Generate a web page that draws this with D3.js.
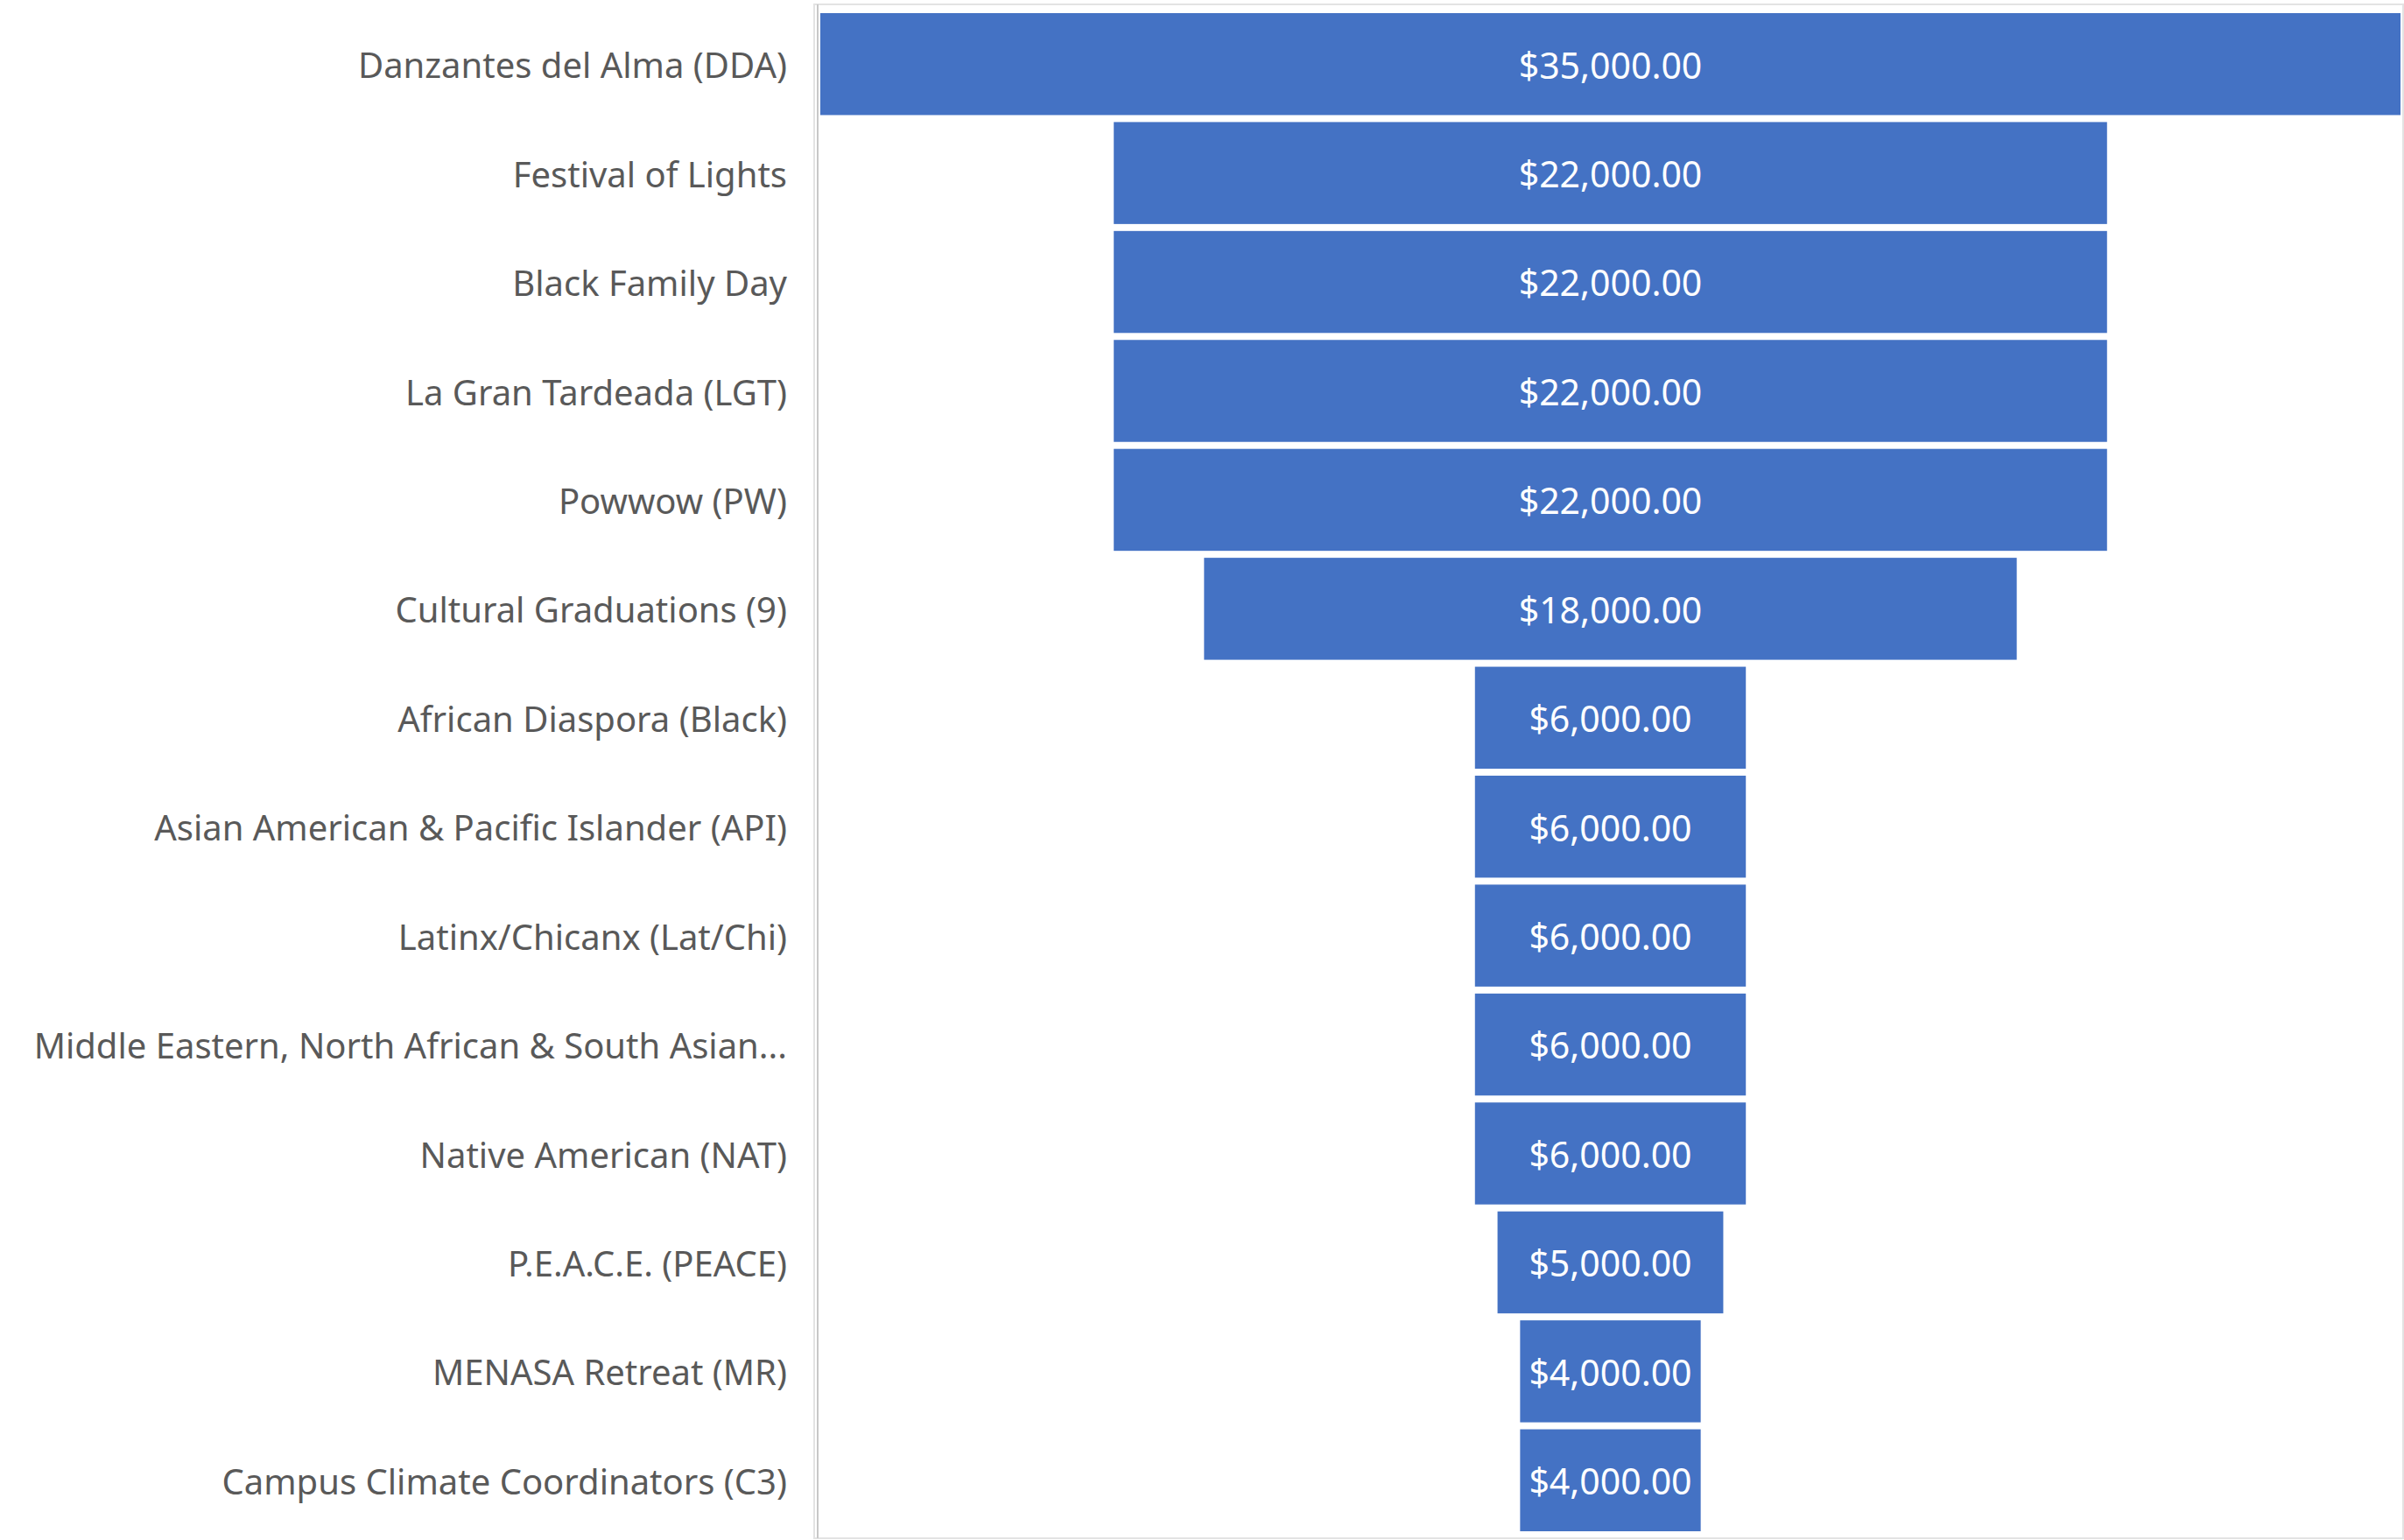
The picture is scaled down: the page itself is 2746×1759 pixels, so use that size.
<!DOCTYPE html>
<html>
<head>
<meta charset="utf-8">
<script src="https://cdn.jsdelivr.net/npm/d3@7"></script>
<style>
    body { margin: 0; background: #fff; }
    svg { display: block; }
</style>
</head>
<body>
<div id="chart"></div>
<script>
// funnel data, top to bottom
const categories = [
    'Danzantes del Alma (DDA)',
    'Festival of Lights',
    'Black Family Day',
    'La Gran Tardeada (LGT)',
    'Powwow (PW)',
    'Cultural Graduations (9)',
    'African Diaspora (Black)',
    'Asian American & Pacific Islander (API)',
    'Latinx/Chicanx (Lat/Chi)',
    'Middle Eastern, North African & South Asian...',
    'Native American (NAT)',
    'P.E.A.C.E. (PEACE)',
    'MENASA Retreat (MR)',
    'Campus Climate Coordinators (C3)'
];
const amounts = [35000, 22000, 22000, 22000, 22000, 18000, 6000, 6000, 6000, 6000, 6000, 5000, 4000, 4000];

const W = 2746, H = 1759;
const plot = { left: 930, top: 5, right: 2745, bottom: 1757 };
const barLeft = 937, barRight = 2742;
const center = (barLeft + barRight) / 2;

const svg = d3.select('#chart').append('svg')
    .attr('width', W)
    .attr('height', H);

const y = d3.scaleBand()
    .domain(categories)
    .range([11, 1753])
    .paddingInner(0.064)
    .paddingOuter(0.032);

const w = d3.scaleLinear()
    .domain([0, d3.max(amounts)])
    .range([0, barRight - barLeft]);

const fmt = d3.format('$,.2f');
const rows = categories.map((c, i) => ({ name: c, value: amounts[i] }));

// plot area border
svg.append('rect')
    .attr('x', plot.left)
    .attr('y', plot.top)
    .attr('width', plot.right - plot.left)
    .attr('height', plot.bottom - plot.top)
    .attr('fill', 'none')
    .attr('stroke', '#e3e3e3')
    .attr('stroke-width', 2);

// category axis line
svg.append('line')
    .attr('x1', plot.left + 4).attr('x2', plot.left + 4)
    .attr('y1', plot.top).attr('y2', plot.bottom)
    .attr('stroke', '#c8c8c8')
    .attr('stroke-width', 2);

svg.selectAll('.bar')
    .data(rows)
    .enter().append('rect')
    .attr('class', 'bar')
    .attr('x', d => center - w(d.value) / 2)
    .attr('y', d => y(d.name))
    .attr('width', d => w(d.value))
    .attr('height', y.bandwidth())
    .attr('fill', '#4472C4');

svg.selectAll('.value')
    .data(rows)
    .enter().append('text')
    .attr('class', 'value')
    .attr('x', center)
    .attr('y', d => y(d.name) + y.bandwidth() / 2 + 2)
    .attr('dy', '0.35em')
    .attr('text-anchor', 'middle')
    .attr('fill', '#fff')
    .style('font-family', '"Noto Sans", "Open Sans", sans-serif')
    .style('font-size', '41px')
    .text(d => fmt(d.value));

svg.selectAll('.cat')
    .data(rows)
    .enter().append('text')
    .attr('class', 'cat')
    .attr('x', 899)
    .attr('y', d => y(d.name) + y.bandwidth() / 2 + 2)
    .attr('dy', '0.35em')
    .attr('text-anchor', 'end')
    .attr('fill', '#595959')
    .style('font-family', '"Noto Sans", "Open Sans", sans-serif')
    .style('font-size', '40px')
    .text(d => d.name);
</script>
</body>
</html>
